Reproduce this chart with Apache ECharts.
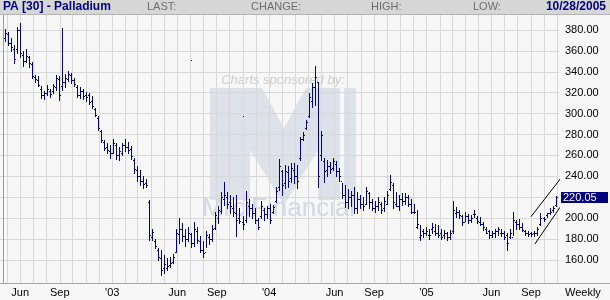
<!DOCTYPE html>
<html><head><meta charset="utf-8">
<script src="https://cdn.jsdelivr.net/npm/echarts/dist/echarts.min.js"></script>
<style>html,body{margin:0;padding:0;background:#f7f7f7}#c{width:610px;height:300px}</style>
</head><body><div id="c"></div><script>
// ---- data (weekly palladium, first bar = week ending 2002-04-26) ----
const firstWeek = '2002-04-26';
const opens = [372,376,368,362,362,380,356,350,354,347, 335,332,324,318,320,322,322,325,333,326,
 330,333,337,332,325,318,322,318,318,312, 304,296,283,273,268,264,262,270,260,262,
 270,268,266,256,246,240,236,234,215,182, 178,170,162,152,152,155,158,168,185,190,
 183,180,185,176,188,178,170,168,182,180, 191,200,207,218,220,215,210,205,200,196,
 198,212,210,205,198,202,208,204,210,206, 216,230,245,234,244,238,246,240,258,276,
 286,298,312,325,330,260,255,246,250,248, 252,245,236,222,215,220,222,210,218,214,
 214,224,215,210,212,214,210,214,228,232, 214,212,218,216,220,214,206,192,182,188,
 186,184,190,188,186,186,184,186,182,188, 205,206,202,196,202,198,204,200,196,194,
 190,188,184,186,188,186,186,184,182,182, 196,194,192,188,186,186,186,186,194,200,
 203,205,208,213];
const highs = [381,378,372,366,383,387,360,362,355,349, 337,336,326,322,327,324,328,337,336,382,
 338,341,339,334,327,325,324,321,320,317, 305,298,284,275,272,270,276,272,268,272,
 276,273,269,258,250,246,240,237,217,190, 180,171,170,165,162,163,166,190,200,195,
 190,192,186,196,192,183,178,188,185,193, 206,212,225,235,225,222,220,222,210,202,
 226,218,214,210,200,216,210,212,214,213, 230,257,246,251,250,253,253,251,278,282,
 294,320,329,346,330,283,258,256,254,258, 255,248,234,232,228,226,230,225,222,220,
 230,225,218,216,220,215,220,226,241,234, 225,222,224,224,222,218,214,208,193,190,
 192,190,195,194,193,190,189,187,189,216, 211,208,203,206,204,203,208,202,201,196,
 192,189,188,190,192,190,188,186,190,206, 198,199,195,189,188,187,188,192,205,201,
 205,210,212,221];
const lows = [369,366,360,348,358,354,346,349,345,334, 330,326,315,314,318,316,320,323,313,323,
 325,331,329,326,316,315,314,312,309,305, 298,284,273,265,262,258,262,257,256,260,
 264,262,257,243,236,232,229,230,179,179, 171,160,146,148,150,153,157,168,176,178,
 173,178,172,173,176,168,163,172,175,178, 190,195,205,213,210,205,202,183,195,190,
 196,202,200,195,190,200,198,200,195,205, 215,227,222,229,230,235,234,229,256,275,
 285,297,306,308,230,256,235,240,243,246, 240,236,219,211,210,212,205,205,210,208,
 214,210,208,206,208,205,207,214,227,210, 212,208,213,214,212,205,205,191,179,182,
 184,180,186,184,182,180,181,179,180,186, 201,200,193,197,195,196,201,195,193,189,
 186,181,182,182,184,183,180,170,181,184, 190,190,188,184,183,183,183,184,193,197,
 201,204,206,212];
const closes = [377,368,364,352,380,358,350,355,348,336, 333,327,318,320,324,319,326,334,318,330,
 334,338,332,328,318,322,317,316,311,307, 299,286,275,267,265,262,272,260,264,270,
 268,265,259,247,240,236,233,232,184,187, 173,163,150,156,154,157,163,186,190,183,
 180,186,176,190,179,170,167,184,180,190, 203,208,220,222,214,212,206,198,197,194,
 215,210,205,198,192,212,204,210,198,211, 226,250,232,245,236,248,240,236,276,280,
 292,316,325,335,240,280,245,250,247,255, 245,240,222,215,220,222,210,218,214,212,
 226,215,210,212,215,208,216,222,235,215, 212,218,216,220,214,206,206,194,184,186,
 188,184,192,186,184,182,186,182,186,208, 206,203,196,202,198,200,204,197,194,192,
 186,184,186,188,190,186,182,176,186,198, 194,192,189,186,185,185,186,190,200,199,
 205,206,210,220];
const strayTicks = [[62.57, 351.3], [79.57, 297.7]];
const lastPrice = 220.05;
const channelUpper = [[175.4, 201.4], [185.3, 238.1]];
const channelLower = [[176.7, 175.3], [185.6, 212.6]];
const yTicks = [160,180,200,220,240,260,280,300,320,340,360,380];
const monthNames = ['Jan','Feb','Mar','Apr','May','Jun','Jul','Aug','Sep','Oct','Nov','Dec'];
const labelMonths = [5, 8, 0]; // Jun, Sep, Jan

// ---- helpers ----
const base = Date.UTC(2002, 3, 22); // Monday of the first week
const DAY = 864e5;
const f0 = firstWeek.split('-').map(Number);
const firstFri = Date.UTC(f0[0], f0[1]-1, f0[2]);
const bars = highs.map((h, i) => {
  const w = (firstFri + i*7*DAY - base) / DAY / 7;
  return [w, opens[i], h, lows[i], closes[i]];
});
const monthVals = [], labelVals = [], labelText = {};
for (let y = 2002; y <= 2005; y++) {
  for (let m = 0; m < 12; m++) {
    const w = (Date.UTC(y, m, 1) - base) / DAY / 7;
    if (w < -0.9 || w > 184.7) continue;
    monthVals.push(w);
    if (labelMonths.indexOf(m) >= 0) {
      labelVals.push(w);
      labelText[w.toFixed(3)] = m === 0 ? "'" + String(y).slice(2) : monthNames[m];
    }
  }
}

const chart = echarts.init(document.getElementById('c'), null, {renderer: 'canvas'});
const FONT = 'Liberation Sans, Arial, sans-serif';
const NAVY = '#000080';
const G = [
  {id: 'hdr', type: 'rect', shape: {x: 0, y: 0, width: 610, height: 14}, style: {fill: '#d6d6d6'}, z: 100},
  {id: 'hdrl', type: 'line', shape: {x1: 0, y1: 14.5, x2: 610, y2: 14.5}, style: {stroke: '#b4b4b4'}, z: 100},
  {id: 't1', type: 'text', x: 3, y: 7, style: {text: 'PA [30] - Palladium', fill: NAVY, font: 'bold 12px ' + FONT, textVerticalAlign: 'middle'}, z: 101},
  {id: 't2', type: 'text', x: 147, y: 7, style: {text: 'LAST:', fill: '#6e6e6e', font: '11px ' + FONT, textVerticalAlign: 'middle'}, z: 101},
  {id: 't3', type: 'text', x: 251, y: 7, style: {text: 'CHANGE:', fill: '#6e6e6e', font: '11px ' + FONT, textVerticalAlign: 'middle'}, z: 101},
  {id: 't4', type: 'text', x: 371, y: 7, style: {text: 'HIGH:', fill: '#6e6e6e', font: '11px ' + FONT, textVerticalAlign: 'middle'}, z: 101},
  {id: 't5', type: 'text', x: 473, y: 7, style: {text: 'LOW:', fill: '#6e6e6e', font: '11px ' + FONT, textVerticalAlign: 'middle'}, z: 101},
  {id: 't6', type: 'text', x: 606, y: 7, style: {text: '10/28/2005', fill: NAVY, font: 'bold 12px ' + FONT, textAlign: 'right', textVerticalAlign: 'middle'}, z: 101},
  {id: 'bl', type: 'line', shape: {x1: 0, y1: 283.5, x2: 610, y2: 283.5}, style: {stroke: '#a8a8a8'}, z: 50},
  {id: 'wk', type: 'text', x: 565, y: 293, style: {text: 'Weekly', fill: '#000', font: '11px ' + FONT, textVerticalAlign: 'middle'}, z: 50},
  // watermark
  {id: 'w1', type: 'text', x: 283, y: 80, style: {text: 'Charts sponsored by:', fill: '#cdcdcd', font: 'italic 13px ' + FONT, textAlign: 'center', textVerticalAlign: 'middle'}, z: 0},
  {id: 'w2', type: 'polygon', shape: {points: [[210,88],[262,88],[284,128],[306,88],[340,88],[340,200],[318,200],[318,150],[284,205],[250,150],[250,200],[210,200]]}, style: {fill: '#dde1ea'}, z: 0},
  {id: 'w3', type: 'rect', shape: {x: 344, y: 88, width: 12, height: 112}, style: {fill: '#dde1ea'}, z: 0},
  {id: 'w4', type: 'text', x: 202, y: 209, style: {text: 'MrciFinancial', fill: '#d3d8e3', font: '26px ' + FONT, textVerticalAlign: 'middle'}, z: 0}
];
chart.setOption({
  backgroundColor: '#f7f7f7',
  animation: false,
  grid: {left: 0, right: 51, top: 15, bottom: 17},
  xAxis: {
    type: 'value', min: -0.997, max: 184.72,
    axisLine: {show: false},
    axisTick: {show: false, customValues: monthVals},
    splitLine: {show: true, lineStyle: {color: '#d8d8d8', width: 1}},
    axisLabel: {customValues: labelVals, margin: 4, fontFamily: FONT, fontSize: 11, color: '#000',
      formatter: v => labelText[v.toFixed(3)] || ''}
  },
  yAxis: {
    type: 'value', position: 'right', min: 138, max: 394.34,
    axisLine: {show: true, lineStyle: {color: '#9a9a9a'}},
    axisTick: {show: false, customValues: yTicks},
    splitLine: {show: true, lineStyle: {color: '#d8d8d8'}},
    axisLabel: {customValues: yTicks, margin: 6, fontFamily: FONT, fontSize: 11, color: '#000',
      formatter: v => v.toFixed(2)}
  },
  graphic: G,
  series: [
    {
      type: 'custom', name: 'PA',
      data: bars, clip: true,
      encode: {x: 0, y: [1, 2, 3, 4]},
      renderItem: function (params, api) {
        const x = api.value(0);
        const ph = api.coord([x, api.value(2)]);
        const pl = api.coord([x, api.value(3)]);
        const po = api.coord([x, api.value(1)]);
        const pc = api.coord([x, api.value(4)]);
        const X = Math.round(ph[0]);
        const y1 = Math.round(ph[1]), y2 = Math.round(pl[1]) + 1;
        return {type: 'group', children: [
          {type: 'rect', shape: {x: X, y: y1, width: 1, height: Math.max(1, y2 - y1)}, style: {fill: NAVY}},
          {type: 'rect', shape: {x: X - 1, y: Math.round(po[1]), width: 1, height: 1}, style: {fill: NAVY}},
          {type: 'rect', shape: {x: X + 1, y: Math.round(pc[1]), width: 1, height: 1}, style: {fill: NAVY}}
        ]};
      }
    },
    {
      type: 'custom', name: 'stray', data: strayTicks, encode: {x: 0, y: 1},
      renderItem: function (params, api) {
        const p = api.coord([api.value(0), api.value(1)]);
        return {type: 'rect', shape: {x: Math.round(p[0]), y: Math.round(p[1]), width: 1, height: 1}, style: {fill: NAVY}};
      }
    },
    {type: 'line', data: channelUpper, symbol: 'none', clip: false, lineStyle: {color: '#000', width: 1}, z: 3},
    {type: 'line', data: channelLower, symbol: 'none', clip: false, lineStyle: {color: '#000', width: 1}, z: 3}
  ]
});
// last-price tag on the right axis, positioned through the y scale
const tagY = chart.convertToPixel({yAxisIndex: 0}, lastPrice);
chart.setOption({graphic: [
  {id: 'tagbg', type: 'rect', shape: {x: 561, y: Math.round(tagY) - 5, width: 47, height: 11}, style: {fill: NAVY}, z: 60},
  {id: 'tagtx', type: 'text', x: 563, y: Math.round(tagY) + 0.5, style: {text: lastPrice.toFixed(2), fill: '#fff', font: '11px ' + FONT, textVerticalAlign: 'middle'}, z: 61}
]});
</script></body></html>
